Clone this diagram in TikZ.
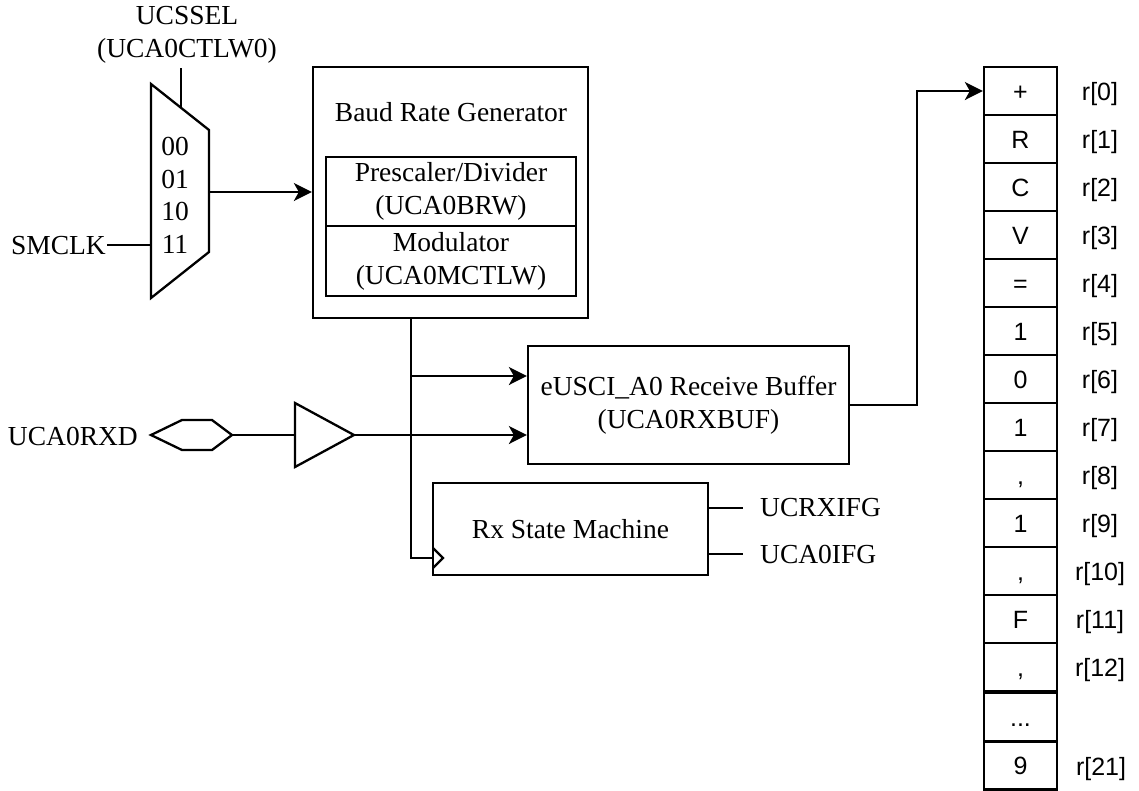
\documentclass[tikz,border=0pt]{standalone}
\usepackage{fontspec}
\setmainfont{Liberation Serif}
\newfontfamily\arialfont{Liberation Sans}
\usetikzlibrary{arrows.meta,calc}
\begin{document}
\begin{tikzpicture}[x=1pt,y=-1pt,line width=2.3pt,
  box/.style={draw,line width=2.3pt,rectangle,inner sep=0pt,align=center,font=\fontsize{27.5}{33}\selectfont},
  lbl/.style={inner sep=0pt,align=center,font=\fontsize{27.5}{33}\selectfont},
  cell/.style={draw,line width=2.3pt,minimum width=73pt,minimum height=48pt,inner sep=0pt,text height=18pt,text depth=0pt,font=\arialfont\fontsize{25}{30}\selectfont},
  rlab/.style={inner sep=0pt,text height=19pt,text depth=0pt,font=\arialfont\fontsize{25}{30}\selectfont},
  arr/.style={-{Stealth[length=18pt,width=18pt,inset=5pt]}},
]
\useasboundingbox (0,0) rectangle (1139,790);

% multiplexer
\draw (151,84) -- (209,130) -- (209,252) -- (151,298) -- cycle;
\coordinate (muxout) at (209,192);
\coordinate (muxin) at (151,245);
\coordinate (muxsel) at (181,108);
\coordinate (seltop) at (181,68);
\node[lbl] (ucssel) at (187,35) {UCSSEL\\(UCA0CTLW0)};
\draw (seltop) -- (muxsel);
\node[lbl] (m00) at (175,146) {00};
\node[lbl] (m01) at (175,179) {01};
\node[lbl] (m10) at (175,211) {10};
\node[lbl] (m11) at (175,244) {11};
\node[lbl,anchor=east] (smclk) at (107,246) {SMCLK};
\draw (smclk.east |- muxin) -- (muxin);

% baud rate generator
\node[box,minimum width=275pt,minimum height=251pt] (brg) at (450.5,192.5) {};
\node[lbl] (brgt) at (451,112) {Baud Rate Generator};
\node[box,minimum width=250pt,minimum height=69pt] (pre) at (451,191.5) {Prescaler/Divider\\(UCA0BRW)};
\node[box,minimum width=250pt,minimum height=70pt] (mod) at (451,261) {Modulator\\(UCA0MCTLW)};
\draw[arr] (muxout) -- (muxout -| brg.west);

% receive buffer and state machine
\node[box,minimum width=321pt,minimum height=118pt] (rb) at (688.5,405) {eUSCI\_A0 Receive Buffer\\(UCA0RXBUF)};
\node[box,minimum width=275pt,minimum height=92pt] (sm) at (570.5,529) {Rx State Machine};

\coordinate (tap) at (411,318);
\coordinate (br1) at (411,376);
\coordinate (clk) at (433,558);
\draw (tap) |- (clk);
\draw[arr] (br1) -- (rb.west |- br1);
\draw (433,548) -- (443,558) -- (433,568);

% input
\node[lbl,anchor=east] (rxd) at (139,436) {UCA0RXD};
\draw (151,435) -- (182,420) -- (212,420) -- (232,435) -- (212,450) -- (182,450) -- cycle;
\coordinate (hexr) at (232,435);
\draw (295,403) -- (354,435) -- (295,467) -- cycle;
\coordinate (bufin) at (295,435);
\coordinate (bufout) at (354,435);
\draw (hexr) -- (bufin);
\draw[arr] (bufout) -- (rb.west |- bufout);

% flags
\coordinate (f1) at (743,508);
\coordinate (f2) at (743,554);
\draw (sm.east |- f1) -- (f1);
\draw (sm.east |- f2) -- (f2);
\node[lbl,anchor=west] (ucrxifg) at (759,508) {UCRXIFG};
\node[lbl,anchor=west] (uca0ifg) at (759,554) {UCA0IFG};

% array
\foreach \i/\t in {0/+,1/R,2/C,3/V,4/=,5/1,6/0,7/1,8/{,},9/1,10/{,},11/F,12/{,}}{
  \node[cell] (c\i) at (1020.5,{91+48*\i}) {\t};
  \node[rlab] (r\i) at (1100,{91+48*\i}) {r[\i]};
}
\node[cell] (cdots) at (1020.5,717) {...};
\node[cell] (c21) at (1020.5,765.5) {9};
\node[rlab] (r21) at (1101,765.5) {r[21]};

\coordinate (rbo) at (917,405);
\draw[arr] (rb.east) -- (rbo) |- (c0.west);
\end{tikzpicture}
\end{document}
